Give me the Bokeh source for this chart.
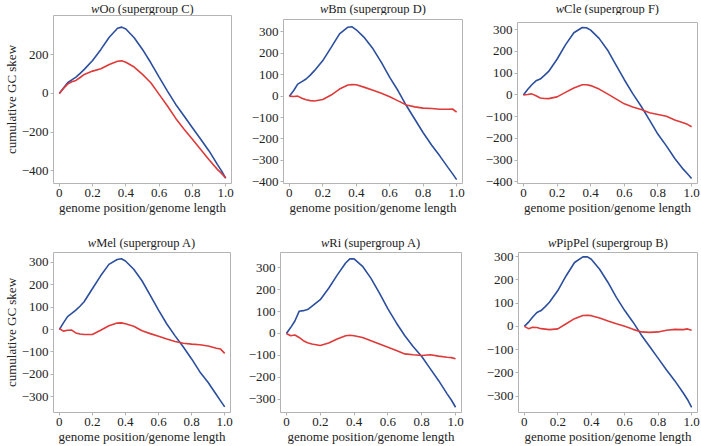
from bokeh.plotting import figure
from bokeh.layouts import column, row
from bokeh.models import FixedTicker, Range1d
from bokeh.core.properties import value
from bokeh.embed import file_html
from bokeh.resources import INLINE

# ---------------- data ----------------
genome_pos = [0, 0.025, 0.05, 0.075, 0.1, 0.125, 0.15, 0.2, 0.25, 0.3, 0.35, 0.375,
              0.4, 0.45, 0.5, 0.55, 0.6, 0.65, 0.7, 0.75, 0.8, 0.85, 0.9, 0.95, 0.975, 1.0]

strains = ["Oo", "Bm", "Cle", "Mel", "Ri", "PipPel"]
supergroups = ["C", "D", "F", "A", "A", "B"]

blue_wOo = [0, 28, 55, 70, 84, 103, 124, 170, 227, 290, 336, 342, 332, 287, 227, 158,
            84, 12, -57, -117, -177, -237, -297, -366, -400, -438]
red_wOo = [0, 25, 48, 60, 67, 82, 98, 115, 127, 149, 166, 168, 161, 136, 98, 55,
           -5, -65, -129, -185, -237, -290, -342, -392, -413, -436]

blue_wBm = [0, 25, 56, 68, 80, 98, 119, 166, 228, 291, 322, 324, 310, 272, 221, 158,
            88, 25, -45, -108, -171, -228, -280, -335, -362, -390]
red_wBm = [0, -2, 0, -10, -17, -21, -23, -16, 5, 33, 52, 54, 53, 41, 28, 13,
           -3, -22, -41, -50, -56, -58, -61, -61, -60, -75]

blue_wCle = [0, 25, 47, 65, 73, 90, 108, 164, 230, 286, 310, 309, 298, 260, 207, 138,
             70, 6, -52, -116, -181, -234, -292, -341, -362, -384]
red_wCle = [0, 2, 5, -4, -14, -16, -17, -9, 12, 32, 47, 47, 43, 27, 5, -18,
            -41, -55, -67, -82, -90, -98, -115, -128, -135, -146]

blue_wMel = [0, 30, 58, 72, 87, 104, 124, 182, 240, 291, 313, 316, 306, 269, 218, 153,
             87, 25, -28, -78, -131, -189, -236, -291, -318, -345]
red_wMel = [5, -7, -3, -2, -15, -20, -22, -22, -3, 17, 29, 30, 26, 15, -5, -18,
            -30, -42, -53, -61, -65, -68, -73, -83, -87, -106]

blue_wRi = [0, 27, 57, 101, 104, 109, 124, 154, 206, 266, 321, 340, 340, 306, 251, 184,
            112, 48, -10, -60, -105, -160, -215, -275, -303, -336]
red_wRi = [0, -10, -7, -18, -33, -42, -48, -55, -43, -25, -10, -8, -10, -18, -33, -48,
           -63, -78, -93, -97, -100, -97, -103, -108, -110, -115]

blue_wPipPel = [0, 18, 40, 60, 68, 85, 104, 154, 218, 275, 299, 300, 289, 246, 189, 125,
                68, 18, -38, -88, -138, -188, -235, -287, -315, -349]
red_wPipPel = [0, -10, -4, -5, -10, -12, -14, -11, 11, 33, 47, 48, 46, 36, 23, 11,
               0, -13, -24, -26, -24, -17, -13, -14, -11, -17]

blue_series = [blue_wOo, blue_wBm, blue_wCle, blue_wMel, blue_wRi, blue_wPipPel]
red_series = [red_wOo, red_wBm, red_wCle, red_wMel, red_wRi, red_wPipPel]

x_ticks = [0, 0.2, 0.4, 0.6, 0.8, 1.0]
x_tick_labels = ["0", "0.2", "0.4", "0.6", "0.8", "1.0"]
y_ticks_panels = [
    [-400, -200, 0, 200],
    [-400, -300, -200, -100, 0, 100, 200, 300],
    [-400, -300, -200, -100, 0, 100, 200, 300],
    [-300, -200, -100, 0, 100, 200, 300],
    [-300, -200, -100, 0, 100, 200, 300],
    [-300, -200, -100, 0, 100, 200, 300],
]
y_ranges = [(-465, 402), (-408, 358), (-407, 333), (-370, 344), (-360, 369), (-371, 318)]

x_label = "genome position/genome length"
y_label = "cumulative GC skew"

# ---------------- style / layout ----------------
FONT = "Liberation Serif"
BLUE = "#2b4e9d"
RED = "#df3a3a"
FRAME = "#b4b4b4"
TXT = "#222222"

# horizontal: (width, border_l, border_r)
hgeom = [(245, 48, 14), (227, 38, 10), (229, 45, 4),
         (244, 48, 14), (228, 36, 11), (229, 46, 4)]
# vertical per panel: (title_h, title_dy (screen px, + is down), plot_h, plot_border_t)
vgeom = [(15, 0.5, 202, 0), (15, 0.5, 202, 4), (15, 0.5, 202, 7),
         (33, 8.5, 196, 2), (33, 8.5, 196, 2), (33, 8.5, 196, 2)]

# Times/Liberation Serif advance widths (per 1000 em) for title centring
ROMAN_W = {" ": 250, "(": 333, ")": 333, "A": 722, "B": 667, "C": 667, "D": 722,
           "F": 556, "M": 889, "O": 722, "P": 556, "R": 667, "a": 444, "e": 444,
           "g": 500, "i": 278, "l": 278, "m": 778, "n": 500, "o": 500, "p": 500,
           "r": 333, "s": 389, "u": 500}
ITALIC_W = 667
TITLE_SIZE = 12.5


def fmt(v):
    return ("\u2212" + str(abs(v))) if v < 0 else str(v)


def strip(w, h, bl, br, xr):
    s = figure(width=w, height=h, output_backend="svg", toolbar_location=None,
               x_range=xr, y_range=Range1d(0, 1),
               x_axis_location=None, y_axis_location=None,
               min_border_left=bl, min_border_right=br,
               min_border_top=0, min_border_bottom=0)
    s.outline_line_color = None
    s.grid.visible = False
    s.background_fill_color = "white"
    s.border_fill_color = "white"
    return s


panels = []
for i in range(6):
    w, bl, br = hgeom[i]
    th, tdy, ph, pbt = vgeom[i]
    ylo, yhi = y_ranges[i]
    xr = Range1d(-0.035, 1.035)

    # --- title strip: italic "w" + roman remainder, centred over the frame
    t = strip(w, th, bl, br, xr)
    rest = strains[i] + " (supergroup " + supergroups[i] + ")"
    wr = sum(ROMAN_W.get(c, 500) for c in rest)
    xoff = (ITALIC_W - wr) / 2 * TITLE_SIZE / 1000
    t.text(x=[0.5], y=[0.5], text=["w"], x_offset=xoff, y_offset=tdy,
           text_font=value(FONT), text_font_style="italic",
           text_font_size=f"{TITLE_SIZE}px", text_align="right",
           text_baseline="middle", text_color=TXT)
    t.text(x=[0.5], y=[0.5], text=[rest], x_offset=xoff, y_offset=tdy,
           text_font=value(FONT), text_font_size=f"{TITLE_SIZE}px",
           text_align="left", text_baseline="middle", text_color=TXT)

    # --- main plot
    p = figure(width=w, height=ph, output_backend="svg", toolbar_location=None,
               x_range=xr, y_range=Range1d(ylo, yhi),
               min_border_left=bl, min_border_right=br,
               min_border_top=pbt, min_border_bottom=30)
    p.outline_line_color = FRAME
    p.outline_line_width = 1
    p.grid.visible = False
    p.background_fill_color = "white"
    p.border_fill_color = "white"

    p.line(genome_pos, blue_series[i], line_color=BLUE, line_width=1.6)
    p.line(genome_pos, red_series[i], line_color=RED, line_width=1.6)

    for ax in (p.xaxis[0], p.yaxis[0]):
        ax.axis_line_color = None
        ax.major_tick_line_color = FRAME
        ax.major_tick_in = 0
        ax.major_tick_out = 3
        ax.minor_tick_line_color = None
        ax.major_label_text_font = FONT
        ax.major_label_text_font_size = "13px"
        ax.major_label_text_color = TXT
        ax.major_label_text_line_height = 1.0
        ax.major_label_standoff = 2
        ax.axis_label_text_font = FONT
        ax.axis_label_text_font_size = "13px"
        ax.axis_label_text_font_style = "normal"
        ax.axis_label_text_color = TXT
        ax.axis_label_text_line_height = 1.0
        ax.axis_label_standoff = 0

    p.xaxis.ticker = FixedTicker(ticks=x_ticks)
    p.xaxis.major_label_overrides = {t_: s_ for t_, s_ in zip(x_ticks, x_tick_labels)}
    p.xaxis.axis_label = x_label

    yt = y_ticks_panels[i]
    p.yaxis.ticker = FixedTicker(ticks=yt)
    p.yaxis.major_label_overrides = {t_: fmt(t_) for t_ in yt}
    if i in (0, 3):
        p.yaxis.axis_label = y_label

    panels.append(column(t, p, spacing=0))

layout = column(row(panels[0], panels[1], panels[2], spacing=0),
                row(panels[3], panels[4], panels[5], spacing=0), spacing=0)

open("out.html", "w").write(file_html(layout, INLINE))
